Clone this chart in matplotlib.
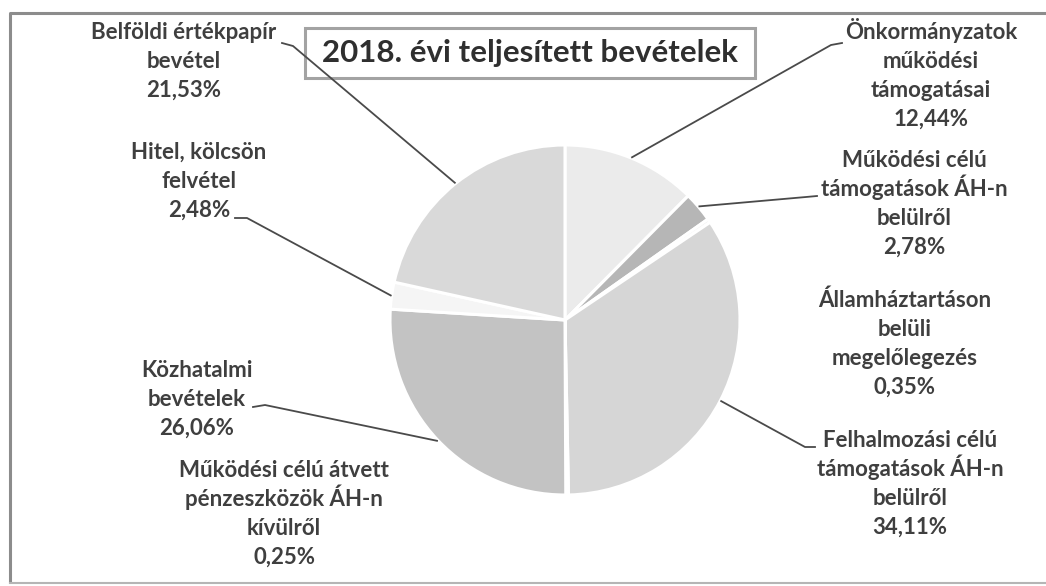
import numpy as np
import matplotlib.pyplot as plt
from matplotlib.patches import Rectangle

# --- adatok ---
categories = [
    'Önkormányzatok\nműködési\ntámogatásai',
    'Működési célú\ntámogatások ÁH-n\nbelülről',
    'Államháztartáson\nbelüli\nmegelőlegezés',
    'Felhalmozási célú\ntámogatások ÁH-n\nbelülről',
    'Működési célú átvett\npénzeszközök ÁH-n\nkívülről',
    'Közhatalmi\nbevételek',
    'Hitel, kölcsön\nfelvétel',
    'Belföldi értékpapír\nbevétel',
]
shares = [12.44, 2.78, 0.35, 34.11, 0.25, 26.06, 2.48, 21.53]
colors = ['#ebebeb', '#b6b6b6', '#f2f2f2', '#d6d6d6', '#e2e2e2', '#c3c3c3', '#f5f5f5', '#d9d9d9']
title = '2018. évi teljesített bevételek'

W, H = 1046, 586
FONT = ['Lato', 'DejaVu Sans']
TXT = '#3f3f3f'
LINE = '#4a4a4a'
LSTEP = 29  # sortávolság pixelben

# első sor közepe (pixel, felülről) + vezetővonal kezdőpontjai (None = nincs vonal)
label_pos = [(931, 32), (914, 160), (905, 300), (910, 440), (284, 470), (197, 370), (199, 152), (184, 32)]
leader_start = [
    [(842, 43), (831, 45)],
    [(817, 196), (806, 197)],
    None,
    [(815, 447), (805, 447)],
    None,
    [(253, 407), (265, 405)],
    [(235, 218), (247, 218)],
    [(282, 43), (293, 46)],
]

cx, cy, R = 565, 320, 175


def py(y):
    return H - y


fig = plt.figure(figsize=(W / 100, H / 100), dpi=100)
ax = fig.add_axes([0, 0, 1, 1])

wedges, _ = ax.pie(shares, colors=colors, startangle=90, counterclock=False,
                   center=(cx, py(cy)), radius=R,
                   wedgeprops=dict(edgecolor='white', linewidth=2.2))

ax.set_xlim(0, W)
ax.set_ylim(0, H)
ax.set_aspect('equal')
ax.axis('off')

# keret
ax.plot([10, 10, 1052], [py(583), py(13), py(13)], color='#8c8c8c', lw=2.2, solid_capstyle='butt')
ax.plot([10, 1052], [py(583), py(583)], color='#b5b5b5', lw=1.5)

# címkék (soronként, alapvonalra igazítva -> egyenletes sortáv)
for i, (lab, val) in enumerate(zip(categories, shares)):
    x, y0 = label_pos[i]
    lines = lab.split('\n') + [f'{val:.2f}%'.replace('.', ',')]
    for k, ln in enumerate(lines):
        ax.text(x, py(y0 + 7 + k * LSTEP), ln, ha='center', va='baseline', fontsize=16,
                fontweight='bold', color=TXT, family=FONT)
    if leader_start[i] is not None:
        w = wedges[i]
        mid = np.deg2rad((w.theta1 + w.theta2) / 2)
        ex = cx + (R + 1) * np.cos(mid)
        ey = py(cy) + (R + 1) * np.sin(mid)
        pts = leader_start[i]
        xs = [p[0] for p in pts] + [ex]
        ys = [py(p[1]) for p in pts] + [ey]
        ax.plot(xs, ys, color=LINE, lw=1.3)

# cím doboz
ax.add_patch(Rectangle((305, py(78)), 450, 50, fill=False, edgecolor='#a3a3a3', lw=2.2))
ax.text(530, py(62), title, ha='center', va='baseline', fontsize=22.5, fontweight='bold',
        color='#2f2f2f', family=FONT)

fig.savefig('out.png', dpi=100)
